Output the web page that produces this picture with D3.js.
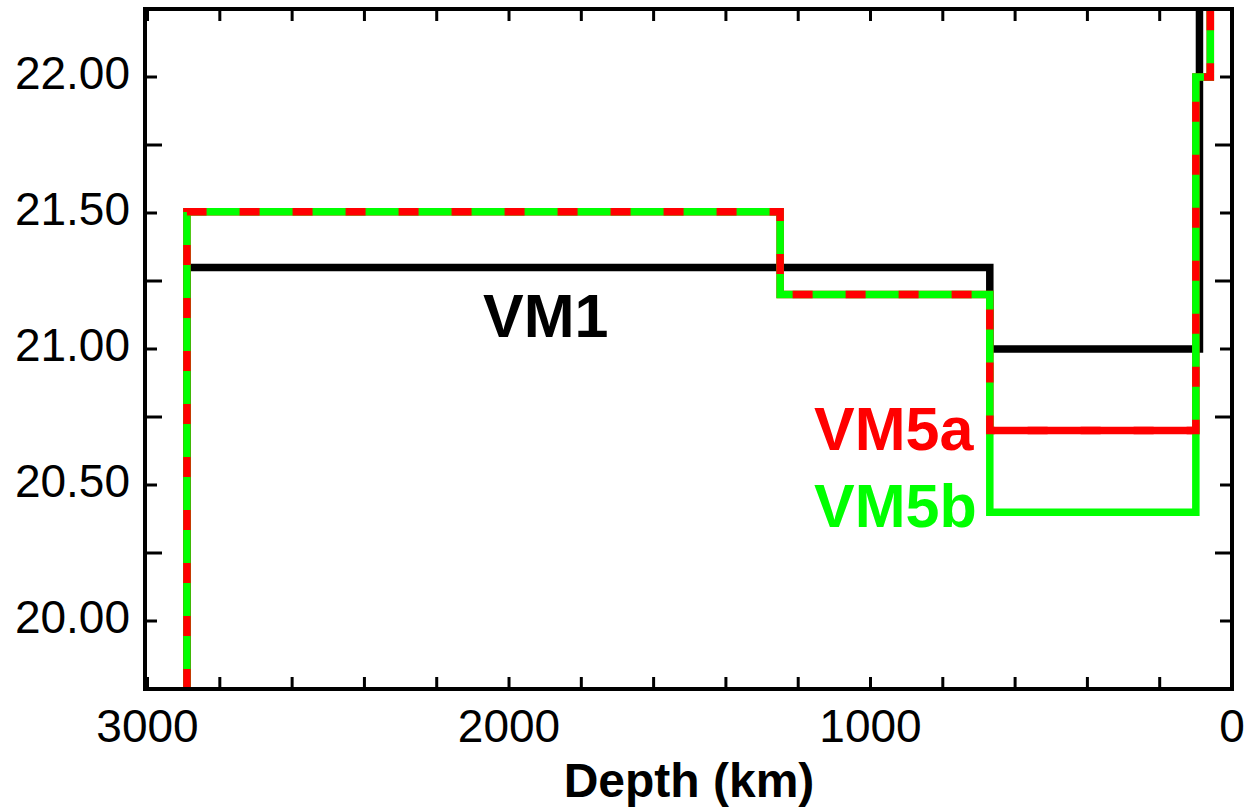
<!DOCTYPE html>
<html>
<head>
<meta charset="utf-8">
<script src="https://cdn.jsdelivr.net/npm/d3@7"></script>
<style>
  body { margin: 0; background: #fff; }
  svg { display: block; font-family: "Liberation Sans", Arial, Helvetica, sans-serif; }
</style>
</head>
<body>
<div id="vis"></div>
<script>
// Viscosity profiles (log10 viscosity, Pa s) vs depth (km)
// boundaries go from deep (CMB) to shallow; values are the layer between two boundaries
var vm1Bounds = [2891, 670, 90];
var vm1Values = [21.3, 21.0];

var vm5aBounds = [2891, 1250, 670, 100, 60];
var vm5aValues = [21.505, 21.2, 20.7, 22.0];

var vm5bBounds = [2891, 1250, 670, 100, 60];
var vm5bValues = [21.505, 21.2, 20.4, 22.0];

var xTicks = d3.range(0, 3001, 200);
var xTickLabels = [3000, 2000, 1000, 0];
var yTicks = [20.0, 20.25, 20.5, 20.75, 21.0, 21.25, 21.5, 21.75, 22.0];
var yTickLabels = [20.0, 20.5, 21.0, 21.5, 22.0];

var width = 1250, height = 809;

var x = d3.scaleLinear().domain([3007, 0]).range([145, 1232]);
var y = d3.scaleLinear().domain([19.75, 22.25]).range([689, 9]);

var svg = d3.select('#vis').append('svg')
  .attr('width', width)
  .attr('height', height);

svg.append('clipPath').attr('id', 'plotClip')
  .append('rect')
  .attr('x', x.range()[0]).attr('y', y.range()[1])
  .attr('width', x.range()[1] - x.range()[0])
  .attr('height', y.range()[0] - y.range()[1]);

// turn a layered profile into step points, entering from the bottom of the chart
// and leaving through the top (lithosphere)
function stepPoints(bounds, values) {
  var yLo = y.domain()[0], yHi = y.domain()[1];
  var pts = [[bounds[0], yLo]];
  values.forEach(function (v, i) {
    pts.push([bounds[i], v]);
    pts.push([bounds[i + 1], v]);
  });
  pts.push([bounds[bounds.length - 1], yHi + 0.1]);
  return pts;
}

var line = d3.line()
  .x(function (d) { return x(d[0]); })
  .y(function (d) { return y(d[1]); });

var plot = svg.append('g').attr('clip-path', 'url(#plotClip)');

var lw = 7.5;

plot.append('path')
  .attr('d', line(stepPoints(vm1Bounds, vm1Values)))
  .attr('fill', 'none')
  .attr('stroke', '#000')
  .attr('stroke-width', lw);

plot.append('path')
  .attr('d', line(stepPoints(vm5aBounds, vm5aValues)))
  .attr('fill', 'none')
  .attr('stroke', '#ff0000')
  .attr('stroke-width', lw);

plot.append('path')
  .attr('d', line(stepPoints(vm5bBounds, vm5bValues)))
  .attr('fill', 'none')
  .attr('stroke', '#00ff00')
  .attr('stroke-width', lw);

// red dashes over the green where the two models coincide
plot.append('path')
  .attr('d', line(stepPoints(vm5aBounds, vm5aValues)))
  .attr('fill', 'none')
  .attr('stroke', '#ff0000')
  .attr('stroke-width', lw)
  .attr('stroke-dasharray', '20 33');

// frame
var frame = svg.append('g').attr('fill', 'none').attr('stroke', '#000').attr('stroke-width', 4);
frame.append('rect')
  .attr('x', x.range()[0]).attr('y', y.range()[1])
  .attr('width', x.range()[1] - x.range()[0])
  .attr('height', y.range()[0] - y.range()[1]);

// ticks (inside, on all four sides)
function isLabelled(v) { return yTickLabels.some(function (t) { return Math.abs(t - v) < 1e-9; }); }

var ticks = svg.append('g').attr('stroke', '#000').attr('stroke-width', 3);
yTicks.forEach(function (v) {
  var len = isLabelled(v) ? 12 : 17;
  ticks.append('line')
    .attr('x1', x.range()[0]).attr('x2', x.range()[0] + len)
    .attr('y1', y(v)).attr('y2', y(v));
  ticks.append('line')
    .attr('x1', x.range()[1]).attr('x2', x.range()[1] - len)
    .attr('y1', y(v)).attr('y2', y(v));
});
xTicks.forEach(function (v) {
  ticks.append('line')
    .attr('x1', x(v)).attr('x2', x(v))
    .attr('y1', y.range()[0]).attr('y2', y.range()[0] - 12);
  ticks.append('line')
    .attr('x1', x(v)).attr('x2', x(v))
    .attr('y1', y.range()[1]).attr('y2', y.range()[1] + 12);
});

// tick labels
svg.append('g').selectAll('text')
  .data(yTickLabels)
  .join('text')
  .attr('x', 130)
  .attr('y', function (d) { return y(d) + 12; })
  .attr('text-anchor', 'end')
  .attr('font-size', 46)
  .text(function (d) { return d.toFixed(2); });

svg.append('g').selectAll('text')
  .data(xTickLabels)
  .join('text')
  .attr('x', function (d) { return x(d); })
  .attr('y', 742)
  .attr('text-anchor', 'middle')
  .attr('font-size', 46)
  .text(function (d) { return d; });

svg.append('text')
  .attr('x', 689)
  .attr('y', 797)
  .attr('text-anchor', 'middle')
  .attr('font-size', 48)
  .attr('font-weight', 'bold')
  .text('Depth (km)');

// series labels
var labels = [
  { name: 'VM1', color: '#000', x: 483, y: 337 },
  { name: 'VM5a', color: '#ff0000', x: 814, y: 450 },
  { name: 'VM5b', color: '#00ff00', x: 814, y: 527 }
];
svg.append('g').selectAll('text')
  .data(labels)
  .join('text')
  .attr('x', function (d) { return d.x; })
  .attr('y', function (d) { return d.y; })
  .attr('fill', function (d) { return d.color; })
  .attr('font-size', 61)
  .attr('font-weight', 'bold')
  .text(function (d) { return d.name; });
</script>
</body>
</html>
